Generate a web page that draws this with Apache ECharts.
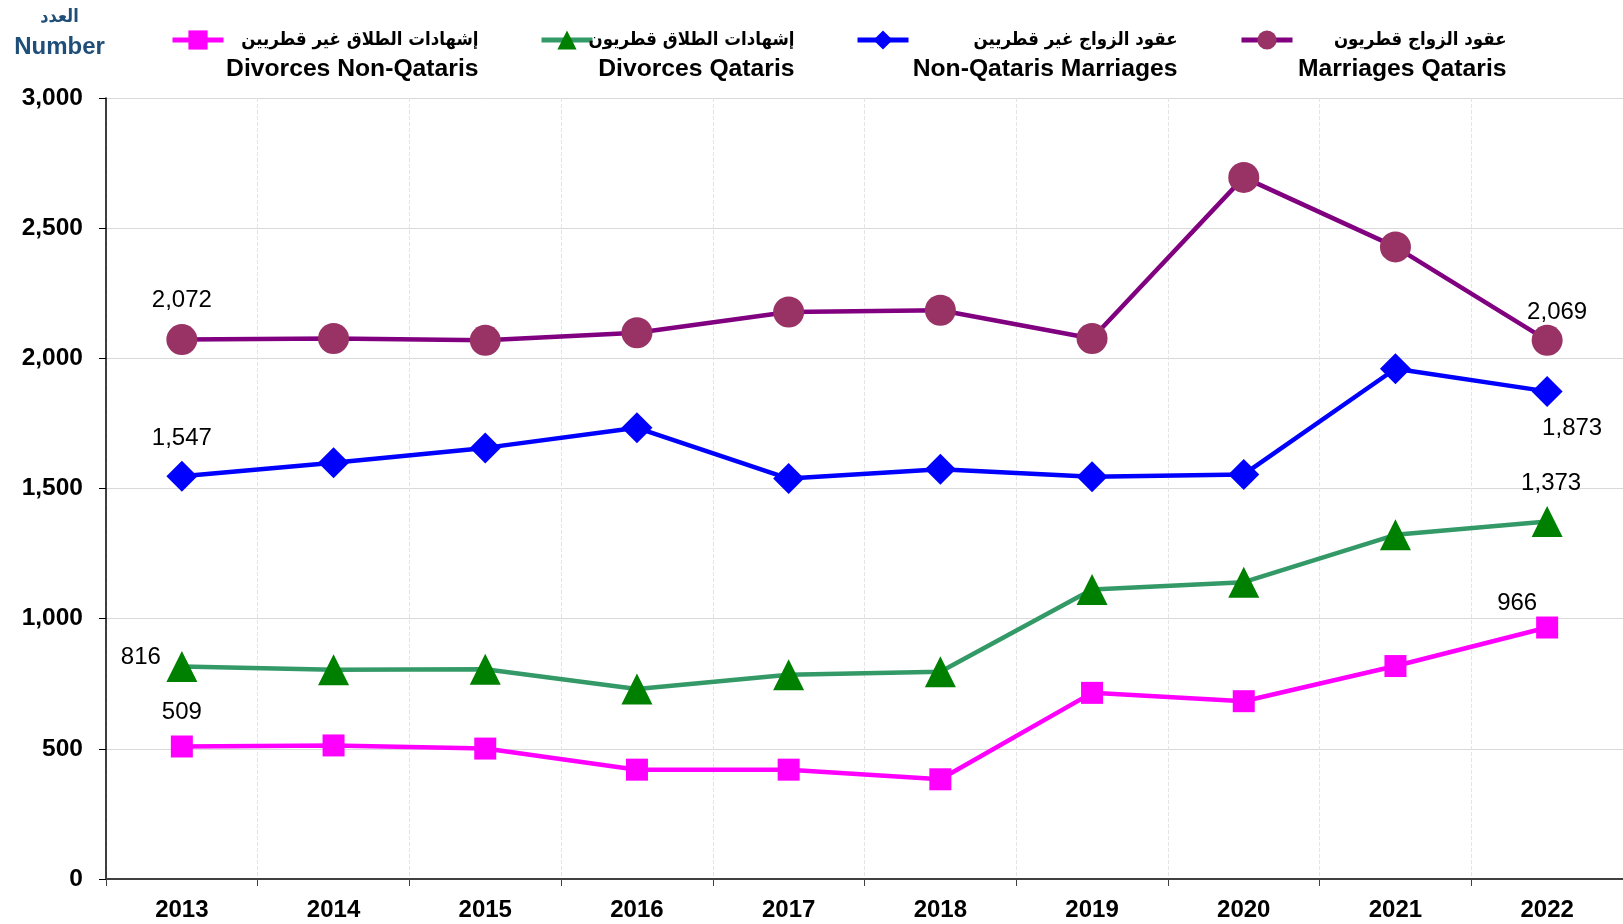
<!DOCTYPE html>
<html>
<head>
<meta charset="utf-8">
<script src="https://cdn.jsdelivr.net/npm/echarts@6/dist/echarts.min.js"></script>
<style>
  html, body { margin: 0; padding: 0; background: #fff; }
  #chart { width: 1623px; height: 924px; }
</style>
</head>
<body>
<div id="chart"></div>
<script>
const YEARS = ["2013", "2014", "2015", "2016", "2017", "2018", "2019", "2020", "2021", "2022"];

const MARRIAGES_QATARIS = [2072, 2076, 2069, 2098, 2178, 2185, 2076, 2695, 2428, 2069];
const MARRIAGES_NON_QATARIS = [1547, 1599, 1656, 1733, 1538, 1574, 1545, 1554, 1960, 1873];
const DIVORCES_QATARIS = [816, 804, 806, 730, 785, 796, 1112, 1140, 1322, 1373];
const DIVORCES_NON_QATARIS = [509, 513, 501, 420, 420, 383, 715, 683, 818, 966];

const Y_TICKS = [0, 500, 1000, 1500, 2000, 2500, 3000];

const FONT = '"Liberation Sans", Arial, "DejaVu Sans", sans-serif';
const AR_FONT = '"DejaVu Sans Condensed", "DejaVu Sans", sans-serif';

// order = legend order, left to right
const SERIES_META = [
  {
    key: "dnq", en: "Divorces Non-Qataris", ar: "إشهادات الطلاق غير قطريين",
    values: DIVORCES_NON_QATARIS, line: "#ff00ff", marker: "#ff00ff",
    symbol: "rect", size: 22, legendLeft: 170, textW: 250,
    labels: { 0: [0, -34], 9: [-30, -24] },
  },
  {
    key: "dq", en: "Divorces Qataris", ar: "إشهادات الطلاق قطريون",
    values: DIVORCES_QATARIS, line: "#339966", marker: "#008000",
    symbol: "triangle", size: 31, legendLeft: 539, textW: 197,
    labels: { 0: [-41, -9], 9: [4, -38] },
  },
  {
    key: "mnq", en: "Non-Qataris Marriages", ar: "عقود الزواج غير قطريين",
    values: MARRIAGES_NON_QATARIS, line: "#0000ff", marker: "#0000ff",
    symbol: "diamond", size: 31, legendLeft: 855, textW: 264,
    labels: { 0: [0, -38], 9: [25, 37] },
  },
  {
    key: "mq", en: "Marriages Qataris", ar: "عقود الزواج قطريون",
    values: MARRIAGES_QATARIS, line: "#800080", marker: "#993366",
    symbol: "circle", size: 31, legendLeft: 1239, textW: 209,
    labels: { 0: [0, -39], 9: [10, -28] },
  },
];

const chart = echarts.init(document.getElementById("chart"));

function fmt(v) {
  return new Intl.NumberFormat("en-US").format(v);
}

function buildData(meta) {
  return meta.values.map((v, i) => {
    const off = meta.labels[i];
    if (!off) return v;
    return {
      value: v,
      label: {
        show: true,
        position: "inside",
        offset: off,
        align: "center",
        verticalAlign: "middle",
        formatter: (p) => fmt(p.value),
        color: "#000",
        fontSize: 24,
        fontFamily: FONT,
      },
    };
  });
}

function buildLegends() {
  return SERIES_META.map((m) => {
    const w = m.textW;
    return {
      data: [m.en],
      left: m.legendLeft,
      top: 1,
      padding: 0,
      itemWidth: 51,
      itemHeight: 24,
      selectedMode: false,
      lineStyle: { width: 5 },
      formatter: () => `{e| }\n{a|${m.ar}}\n{b|${m.en}}`,
      textStyle: {
        width: w,
        rich: {
          e: { width: w, lineHeight: 29, fontSize: 20 },
          a: { width: w, align: "right", lineHeight: 29, fontSize: 18.5, fontWeight: "bold", color: "#000", fontFamily: AR_FONT },
          b: { width: w, align: "right", lineHeight: 29, fontSize: 24.7, fontWeight: "bold", color: "#000", fontFamily: FONT },
        },
      },
    };
  });
}

function buildSeries() {
  return SERIES_META.map((m) => ({
    name: m.en,
    type: "line",
    data: buildData(m),
    symbol: m.symbol,
    symbolSize: m.size,
    showAllSymbol: true,
    lineStyle: { color: m.line, width: 4.5 },
    itemStyle: { color: m.marker, borderWidth: 0 },
    label: { show: false },
    emphasis: { disabled: true },
    animation: false,
    z: 3,
  }));
}

const option = {
  backgroundColor: "#fff",
  animation: false,
  title: {
    text: "{a|العدد}\n{b|Number}",
    left: 59.5,
    top: 2,
    padding: 0,
    textAlign: "center",
    textStyle: {
      rich: {
        a: { fontSize: 18, fontWeight: "bold", color: "#1f4e79", lineHeight: 30, fontFamily: AR_FONT },
        b: { fontSize: 24, fontWeight: "bold", color: "#1f4e79", lineHeight: 30, fontFamily: FONT },
      },
    },
  },
  legend: buildLegends(),
  grid: { left: 106, right: -2, top: 98, bottom: 45, containLabel: false },
  xAxis: {
    type: "category",
    data: YEARS,
    boundaryGap: true,
    axisLine: { show: true, lineStyle: { color: "#404040", width: 2 } },
    axisTick: { show: true, length: 7, lineStyle: { color: "#404040", width: 1 } },
    axisLabel: { color: "#000", fontSize: 24, fontWeight: "bold", fontFamily: FONT, margin: 19, interval: 0 },
    splitLine: { show: true, lineStyle: { color: "#e4e4e4", type: "dashed", width: 1 } },
  },
  yAxis: {
    type: "value",
    min: Y_TICKS[0],
    max: Y_TICKS[Y_TICKS.length - 1],
    interval: Y_TICKS[1] - Y_TICKS[0],
    axisLine: { show: true, lineStyle: { color: "#000", width: 1.5 } },
    axisTick: { show: true, length: 7, lineStyle: { color: "#000", width: 1 } },
    axisLabel: {
      color: "#000", fontSize: 24.5, fontWeight: "bold", fontFamily: FONT, margin: 23,
      formatter: (v) => fmt(v),
    },
    splitLine: { show: true, lineStyle: { color: "#d9d9d9", width: 1 } },
  },
  series: buildSeries(),
};

chart.setOption(option);
window.addEventListener("resize", () => chart.resize());
</script>
</body>
</html>
